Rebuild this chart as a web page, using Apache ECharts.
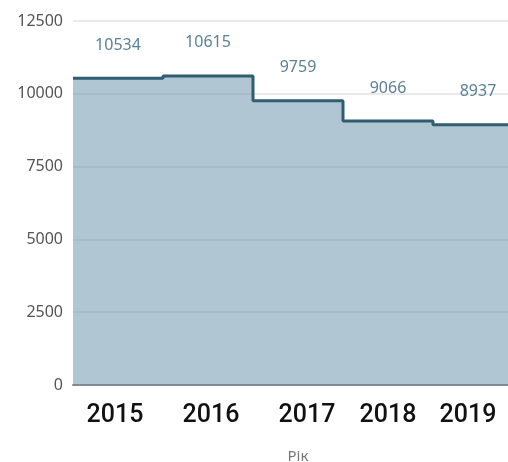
<!DOCTYPE html>
<html>
<head>
<meta charset="utf-8">
<script src="https://cdn.jsdelivr.net/npm/echarts@6/dist/echarts.min.js"></script>
<style>
  html, body { margin: 0; padding: 0; background: #fff; }
  #chart { width: 508px; height: 462px; }
</style>
</head>
<body>
<div id="chart"></div>
<script>
// Population by year, drawn as a stepped area
const years = ['2015', '2016', '2017', '2018', '2019'];
const values = [10534, 10615, 9759, 9066, 8937];
const yTicks = [0, 2500, 5000, 7500, 10000, 12500];
const axisName = 'Рік';

// Horizontal nudge (px) of each year label under its column
const yearLabelShift = [-3, 3, 9, 0, -10];

// Each step spans its whole column: the first and last values are held
// out to the column edges (index -0.5 and n - 0.5) on a hidden value axis.
const n = values.length;
const stepData = [{ value: [-0.5, values[0]], label: { show: false } }]
  .concat(values.map((v, i) => ({ value: [i, v], label: { show: true } })))
  .concat([{ value: [n - 0.5, values[n - 1]], label: { show: false } }]);

const yearRich = {};
yearLabelShift.forEach((s, i) => {
  yearRich['y' + i] = {
    padding: s >= 0 ? [0, 0, 0, 2 * s] : [0, -2 * s, 0, 0],
    color: '#111',
    fontSize: 25,
    fontWeight: 500,
    fontFamily: 'Roboto'
  };
});

const chart = echarts.init(document.getElementById('chart'), null, { renderer: 'canvas' });

chart.setOption({
  animation: false,
  grid: {
    left: 73, width: 450, top: 21, bottom: 77,
    containLabel: false,
    outerBoundsMode: 'none'
  },
  xAxis: [{
    type: 'category',
    data: years,
    boundaryGap: true,
    name: axisName,
    nameLocation: 'middle',
    nameGap: 64,
    nameTextStyle: { color: '#777', fontSize: 15, fontFamily: 'Noto Sans' },
    axisLine: { show: true, lineStyle: { color: '#8a8a8a', width: 2 } },
    axisTick: { show: false },
    axisLabel: {
      margin: 18,
      formatter: (v, i) => '{y' + i + '|' + v + '}',
      rich: yearRich
    },
    splitLine: { show: false }
  }, {
    type: 'value',
    show: false,
    min: -0.5,
    max: n - 0.5,
    splitLine: { show: false }
  }],
  yAxis: {
    type: 'value',
    min: yTicks[0],
    max: yTicks[yTicks.length - 1],
    interval: yTicks[1] - yTicks[0],
    axisLine: { show: false },
    axisTick: { show: false },
    axisLabel: {
      color: '#555',
      fontSize: 16,
      fontFamily: 'Noto Sans',
      margin: 10,
      formatter: v => String(v)
    },
    splitLine: { lineStyle: { color: '#e3e3e3', width: 1.5 } }
  },
  series: [{
    type: 'line',
    xAxisIndex: 1,
    step: 'middle',
    data: stepData,
    showSymbol: true,
    symbol: 'circle',
    symbolSize: 0,
    lineStyle: { color: '#2f5d72', width: 3 },
    itemStyle: { color: '#2f5d72' },
    areaStyle: { color: '#618fa7', opacity: 0.5 },
    label: {
      position: 'top',
      distance: 25,
      color: '#5b8196',
      fontSize: 16,
      fontFamily: 'Noto Sans',
      formatter: p => String(p.value[1])
    }
  }]
});
</script>
</body>
</html>
